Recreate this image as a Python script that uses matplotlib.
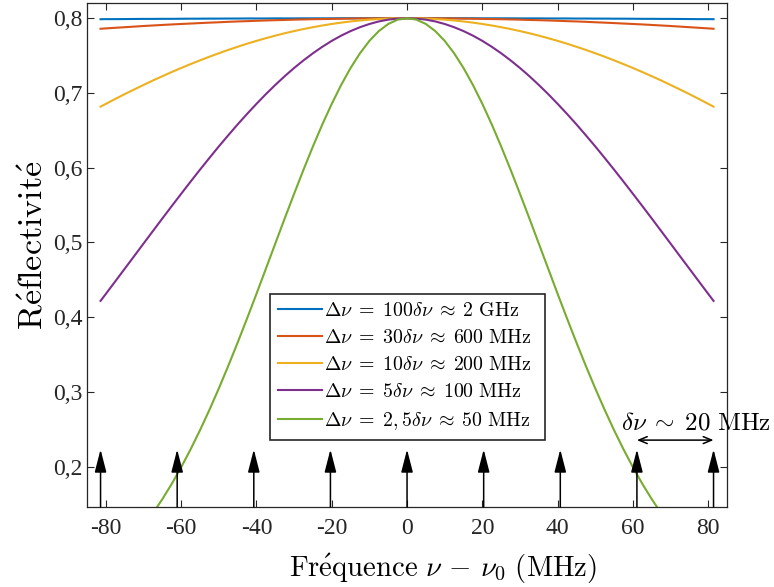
# Reflectivite vs frequence, comb of cavity modes
import matplotlib
matplotlib.use('Agg')
import matplotlib.pyplot as plt

plt.rcParams['mathtext.fontset'] = 'cm'
plt.rcParams['font.family'] = ['Liberation Serif', 'DejaVu Serif']

# frequency samples (MHz)
freq = [-81.4, -80, -77.5, -75, -72.5, -70, -67.5, -65, -62.5, -60, -57.5, -55, -52.5, -50,
        -47.5, -45, -42.5, -40, -37.5, -35, -32.5, -30, -27.5, -25, -22.5, -20, -17.5, -15,
        -12.5, -10, -7.5, -5, -2.5, 0, 2.5, 5, 7.5, 10, 12.5, 15, 17.5, 20, 22.5, 25, 27.5,
        30, 32.5, 35, 37.5, 40, 42.5, 45, 47.5, 50, 52.5, 55, 57.5, 60, 62.5, 65, 67.5, 70,
        72.5, 75, 77.5, 80, 81.4]

# reflectivity
r_2ghz = [0.7987, 0.7988, 0.7988, 0.7989, 0.7990, 0.7991, 0.7991, 0.7992, 0.7992, 0.7993,
          0.7994, 0.7994, 0.7995, 0.7995, 0.7996, 0.7996, 0.7997, 0.7997, 0.7997, 0.7998,
          0.7998, 0.7998, 0.7999, 0.7999, 0.7999, 0.7999, 0.8000, 0.8000, 0.8000, 0.8000,
          0.8000, 0.8000, 0.8000, 0.8000, 0.8000, 0.8000, 0.8000, 0.8000, 0.8000, 0.8000,
          0.8000, 0.7999, 0.7999, 0.7999, 0.7999, 0.7998, 0.7998, 0.7998, 0.7997, 0.7997,
          0.7997, 0.7996, 0.7996, 0.7995, 0.7995, 0.7994, 0.7994, 0.7993, 0.7992, 0.7992,
          0.7991, 0.7991, 0.7990, 0.7989, 0.7988, 0.7988, 0.7987]
r_600 = [0.7859, 0.7864, 0.7872, 0.7880, 0.7888, 0.7896, 0.7903, 0.7910, 0.7917, 0.7923,
         0.7929, 0.7935, 0.7941, 0.7946, 0.7952, 0.7957, 0.7961, 0.7966, 0.7970, 0.7974,
         0.7977, 0.7981, 0.7984, 0.7987, 0.7989, 0.7991, 0.7993, 0.7995, 0.7997, 0.7998,
         0.7999, 0.7999, 0.8000, 0.8000, 0.8000, 0.7999, 0.7999, 0.7998, 0.7997, 0.7995,
         0.7993, 0.7991, 0.7989, 0.7987, 0.7984, 0.7981, 0.7977, 0.7974, 0.7970, 0.7966,
         0.7961, 0.7957, 0.7952, 0.7946, 0.7941, 0.7935, 0.7929, 0.7923, 0.7917, 0.7910,
         0.7903, 0.7896, 0.7888, 0.7880, 0.7872, 0.7864, 0.7859]
r_200 = [0.6817, 0.6854, 0.6920, 0.6984, 0.7046, 0.7107, 0.7167, 0.7224, 0.7280, 0.7334,
         0.7386, 0.7436, 0.7485, 0.7531, 0.7576, 0.7618, 0.7659, 0.7697, 0.7733, 0.7767,
         0.7799, 0.7828, 0.7855, 0.7880, 0.7903, 0.7923, 0.7941, 0.7957, 0.7970, 0.7981,
         0.7989, 0.7995, 0.7999, 0.8000, 0.7999, 0.7995, 0.7989, 0.7981, 0.7970, 0.7957,
         0.7941, 0.7923, 0.7903, 0.7880, 0.7855, 0.7828, 0.7799, 0.7767, 0.7733, 0.7697,
         0.7659, 0.7618, 0.7576, 0.7531, 0.7485, 0.7436, 0.7386, 0.7334, 0.7280, 0.7224,
         0.7167, 0.7107, 0.7046, 0.6984, 0.6920, 0.6854, 0.6817]
r_100 = [0.4218, 0.4311, 0.4479, 0.4647, 0.4815, 0.4984, 0.5152, 0.5320, 0.5486, 0.5650,
         0.5813, 0.5973, 0.6130, 0.6284, 0.6433, 0.6579, 0.6719, 0.6854, 0.6984, 0.7107,
         0.7224, 0.7334, 0.7436, 0.7531, 0.7618, 0.7697, 0.7767, 0.7828, 0.7880, 0.7923,
         0.7957, 0.7981, 0.7995, 0.8000, 0.7995, 0.7981, 0.7957, 0.7923, 0.7880, 0.7828,
         0.7767, 0.7697, 0.7618, 0.7531, 0.7436, 0.7334, 0.7224, 0.7107, 0.6984, 0.6854,
         0.6719, 0.6579, 0.6433, 0.6284, 0.6130, 0.5973, 0.5813, 0.5650, 0.5486, 0.5320,
         0.5152, 0.4984, 0.4815, 0.4647, 0.4479, 0.4311, 0.4218]
r_50 = [0.0618, 0.0675, 0.0786, 0.0910, 0.1050, 0.1205, 0.1376, 0.1564, 0.1769, 0.1991,
        0.2230, 0.2486, 0.2758, 0.3045, 0.3346, 0.3659, 0.3981, 0.4311, 0.4647, 0.4984,
        0.5320, 0.5650, 0.5973, 0.6284, 0.6579, 0.6854, 0.7107, 0.7334, 0.7531, 0.7697,
        0.7828, 0.7923, 0.7981, 0.8000, 0.7981, 0.7923, 0.7828, 0.7697, 0.7531, 0.7334,
        0.7107, 0.6854, 0.6579, 0.6284, 0.5973, 0.5650, 0.5320, 0.4984, 0.4647, 0.4311,
        0.3981, 0.3659, 0.3346, 0.3045, 0.2758, 0.2486, 0.2230, 0.1991, 0.1769, 0.1564,
        0.1376, 0.1205, 0.1050, 0.0910, 0.0786, 0.0675, 0.0618]

series = [r_2ghz, r_600, r_200, r_100, r_50]
labels = [r'$\Delta\nu \;=\; 100\delta\nu \;\approx\; 2\ \mathrm{GHz}$',
          r'$\Delta\nu \;=\; 30\delta\nu \;\approx\; 600\ \mathrm{MHz}$',
          r'$\Delta\nu \;=\; 10\delta\nu \;\approx\; 200\ \mathrm{MHz}$',
          r'$\Delta\nu \;=\; 5\delta\nu \;\approx\; 100\ \mathrm{MHz}$',
          r'$\Delta\nu \;=\; 2,5\delta\nu \;\approx\; 50\ \mathrm{MHz}$']
colors = ['#0072BD', '#D95319', '#EDB120', '#7E2F8E', '#77AC30']

# positions of the modes (MHz)
modes = [-81.4, -61.05, -40.7, -20.35, 0, 20.35, 40.7, 61.05, 81.4]

xticks = [-80, -60, -40, -20, 0, 20, 40, 60, 80]
xticklabels = ['-80', '-60', '-40', '-20', '0', '20', '40', '60', '80']
yticks = [0.2, 0.3, 0.4, 0.5, 0.6, 0.7, 0.8]
yticklabels = ['0,2', '0,3', '0,4', '0,5', '0,6', '0,7', '0,8']

ymin, ymax = 0.146, 0.82

fig = plt.figure(figsize=(7.74, 5.87), dpi=100)
ax = fig.add_axes([0.1124, 0.1363, 0.827, 0.8581])

for r, lab, c in zip(series, labels, colors):
    ax.plot(freq, r, color=c, lw=1.5, label=lab)

# comb arrows
for m in modes:
    ax.annotate('', xy=(m, 0.223), xytext=(m, ymin),
                arrowprops=dict(arrowstyle='-|>,head_length=1.4,head_width=0.36',
                                color='k', lw=1.1, mutation_scale=10,
                                shrinkA=0, shrinkB=0),
                annotation_clip=False)

# spacing marker
ax.annotate('', xy=(modes[7], 0.2355), xytext=(modes[8], 0.2355),
            arrowprops=dict(arrowstyle='<->,head_length=0.6,head_width=0.25',
                            color='k', lw=1.1, mutation_scale=10,
                            shrinkA=0, shrinkB=0))
ax.text(76.8, 0.258, r'$\delta\nu \;\sim\; 20\ \mathrm{MHz}$', fontsize=18,
        ha='center', va='center', clip_on=False)

ax.set_xlim(-85, 85)
ax.set_ylim(ymin, ymax)
ax.set_xticks(xticks)
ax.set_xticklabels(xticklabels)
ax.set_yticks(yticks)
ax.set_yticklabels(yticklabels)
ax.tick_params(direction='in', top=True, right=True, length=5, width=0.8,
               colors='#262626', labelsize=17, labelcolor='#262626')
ax.tick_params(axis='x', pad=8)
ax.tick_params(axis='y', pad=3)
for s in ax.spines.values():
    s.set_color('#262626')
    s.set_linewidth(0.9)

ax.set_xlabel(r'$\mathrm{Fr\acute{e}quence}\ \nu \,-\, \nu_0\ \mathrm{(MHz)}$', fontsize=20.7)
ax.xaxis.set_label_coords(0.556, -0.09)
ax.set_ylabel(r'$\mathrm{R\acute{e}flectivit\acute{e}}$', fontsize=24.5)
ax.yaxis.set_label_coords(-0.058, 0.52)

leg = ax.legend(loc='lower left', bbox_to_anchor=(0.286, 0.133, 0.43, 0.292), mode='expand',
                fontsize=14.3, frameon=True, fancybox=False, framealpha=1,
                edgecolor='#262626', handlelength=2.2, handletextpad=0.1,
                borderpad=0.4, labelspacing=0.4, borderaxespad=0)
leg.get_frame().set_linewidth(1.2)

fig.savefig('out.png', dpi=100)
